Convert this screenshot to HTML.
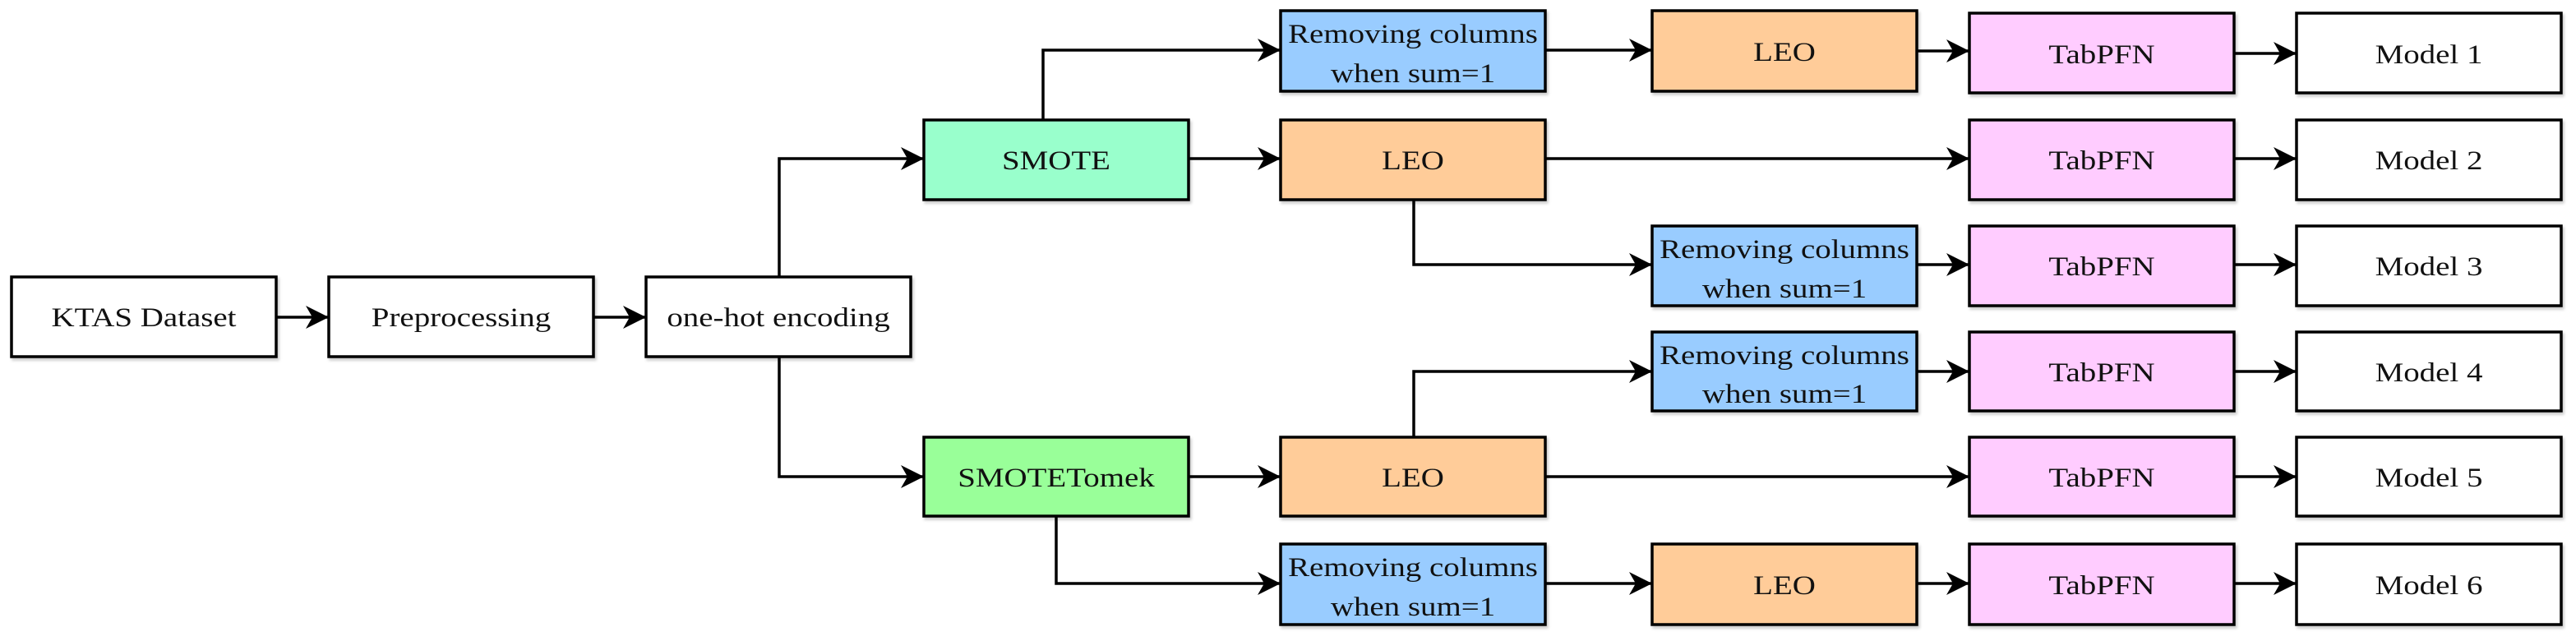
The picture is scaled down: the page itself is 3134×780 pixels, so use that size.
<!DOCTYPE html>
<html><head><meta charset="utf-8"><style>html,body{margin:0;padding:0;background:#fff}svg{display:block}.t{font-family:"Liberation Serif","Times New Roman",serif;font-size:33px}</style></head>
<body>
<svg xmlns="http://www.w3.org/2000/svg" width="3134" height="780" viewBox="0 0 3134 780">
<defs>
<marker id="a" markerUnits="userSpaceOnUse" markerWidth="30" markerHeight="30" refX="28" refY="14" orient="auto" viewBox="0 0 30 28">
<path d="M0,0 L28,14 L0,28 L8,14 Z" fill="#000"/>
</marker>
<filter id="s" x="-5%" y="-5%" width="110%" height="115%"><feDropShadow dx="2" dy="3" stdDeviation="1.5" flood-color="#000" flood-opacity="0.2"/></filter>
</defs>
<g fill="none" stroke="#000" stroke-width="3.5" marker-end="url(#a)">
<path d="M337 386 H400"/>
<path d="M722 386 H786"/>
<path d="M948 338 V193 H1124"/>
<path d="M948 435 V580 H1124"/>
<path d="M1269 145 V61 H1558"/>
<path d="M1446 193 H1558"/>
<path d="M1446 580 H1558"/>
<path d="M1285 628 V710 H1558"/>
<path d="M1881 61 H2010"/>
<path d="M2331 62 H2396"/>
<path d="M2717 65 H2794"/>
<path d="M1881 193 H2396"/>
<path d="M2717 193 H2794"/>
<path d="M1720 243 V322 H2010"/>
<path d="M2331 322 H2396"/>
<path d="M2717 322 H2794"/>
<path d="M1720 531 V452 H2010"/>
<path d="M2331 452 H2396"/>
<path d="M2717 452 H2794"/>
<path d="M1881 580 H2396"/>
<path d="M2717 580 H2794"/>
<path d="M1881 710 H2010"/>
<path d="M2331 710 H2396"/>
<path d="M2717 710 H2794"/>
</g>
<g stroke="#000" stroke-width="3.5" filter="url(#s)">
<rect x="14" y="337" width="322" height="97" fill="#fff"/>
<rect x="400" y="337" width="322" height="97" fill="#fff"/>
<rect x="786" y="337" width="322" height="97" fill="#fff"/>
<rect x="1124" y="146" width="322" height="97" fill="#99ffcc"/>
<rect x="1124" y="532" width="322" height="96" fill="#99ff99"/>
<rect x="1558" y="13" width="322" height="98" fill="#99ccff"/>
<rect x="1558" y="146" width="322" height="97" fill="#ffcc99"/>
<rect x="1558" y="532" width="322" height="96" fill="#ffcc99"/>
<rect x="1558" y="662" width="322" height="98" fill="#99ccff"/>
<rect x="2010" y="13" width="322" height="98" fill="#ffcc99"/>
<rect x="2010" y="275" width="322" height="97" fill="#99ccff"/>
<rect x="2010" y="404" width="322" height="96" fill="#99ccff"/>
<rect x="2010" y="662" width="322" height="98" fill="#ffcc99"/>
<rect x="2396" y="16" width="322" height="97" fill="#ffccff"/>
<rect x="2396" y="146" width="322" height="97" fill="#ffccff"/>
<rect x="2396" y="275" width="322" height="97" fill="#ffccff"/>
<rect x="2396" y="404" width="322" height="96" fill="#ffccff"/>
<rect x="2396" y="532" width="322" height="96" fill="#ffccff"/>
<rect x="2396" y="662" width="322" height="98" fill="#ffccff"/>
<rect x="2794" y="16" width="322" height="97" fill="#fff"/>
<rect x="2794" y="146" width="322" height="97" fill="#fff"/>
<rect x="2794" y="275" width="322" height="97" fill="#fff"/>
<rect x="2794" y="404" width="322" height="96" fill="#fff"/>
<rect x="2794" y="532" width="322" height="96" fill="#fff"/>
<rect x="2794" y="662" width="322" height="98" fill="#fff"/>
</g>
<g class="t" text-anchor="middle" fill="#111">
<text transform="translate(175,397) scale(1.18,1)">KTAS Dataset</text>
<text transform="translate(561,397) scale(1.18,1)">Preprocessing</text>
<text transform="translate(947,397) scale(1.18,1)">one-hot encoding</text>
<text transform="translate(1285,206) scale(1.18,1)">SMOTE</text>
<text transform="translate(1285,592) scale(1.18,1)">SMOTETomek</text>
<text transform="translate(1719,52) scale(1.18,1)">Removing columns</text>
<text transform="translate(1719,100) scale(1.18,1)">when sum=1</text>
<text transform="translate(1719,206) scale(1.18,1)">LEO</text>
<text transform="translate(1719,592) scale(1.18,1)">LEO</text>
<text transform="translate(1719,701) scale(1.18,1)">Removing columns</text>
<text transform="translate(1719,749) scale(1.18,1)">when sum=1</text>
<text transform="translate(2171,74) scale(1.18,1)">LEO</text>
<text transform="translate(2171,314) scale(1.18,1)">Removing columns</text>
<text transform="translate(2171,362) scale(1.18,1)">when sum=1</text>
<text transform="translate(2171,443) scale(1.18,1)">Removing columns</text>
<text transform="translate(2171,490) scale(1.18,1)">when sum=1</text>
<text transform="translate(2171,723) scale(1.18,1)">LEO</text>
<text transform="translate(2557,77) scale(1.18,1)">TabPFN</text>
<text transform="translate(2557,206) scale(1.18,1)">TabPFN</text>
<text transform="translate(2557,335) scale(1.18,1)">TabPFN</text>
<text transform="translate(2557,464) scale(1.18,1)">TabPFN</text>
<text transform="translate(2557,592) scale(1.18,1)">TabPFN</text>
<text transform="translate(2557,723) scale(1.18,1)">TabPFN</text>
<text transform="translate(2955,77) scale(1.18,1)">Model 1</text>
<text transform="translate(2955,206) scale(1.18,1)">Model 2</text>
<text transform="translate(2955,335) scale(1.18,1)">Model 3</text>
<text transform="translate(2955,464) scale(1.18,1)">Model 4</text>
<text transform="translate(2955,592) scale(1.18,1)">Model 5</text>
<text transform="translate(2955,723) scale(1.18,1)">Model 6</text>
</g>
</svg>
</body></html>
